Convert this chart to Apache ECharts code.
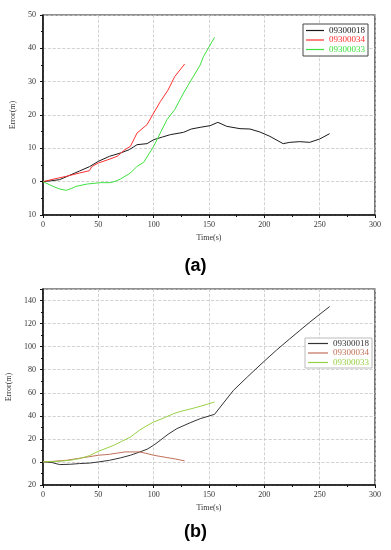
<!DOCTYPE html>
<html><head><meta charset="utf-8">
<script src="https://cdn.jsdelivr.net/npm/echarts@6/dist/echarts.min.js"></script>
<style>html,body{margin:0;padding:0;background:#fff}#c{width:391px;height:550px}</style>
</head><body><div id="c"></div>
<script>
var seriesNames = ['09300018', '09300034', '09300033'];
var xTicksLabel = 'Time(s)';
var yAxisLabel = 'Error(m)';
var panelLabels = ['(a)', '(b)'];

// Panel (a)
var a18_t = [0,8,15,24,33,42,50,60,70,78,85,94,100,108,115,127,134,142,151,158,166,178,187,196,205,217,223,232,241,250,259];
var a18_v = [0,0.3,0.6,1.9,3.2,4.5,6.1,7.6,8.6,9.6,11.1,11.4,12.6,13.4,14.1,14.8,15.8,16.3,16.8,17.8,16.6,15.9,15.8,14.9,13.6,11.4,11.8,12.0,11.8,12.8,14.4];
var a34_t = [0,10,21,33,42,44,50,58,67,74,79,85,94,100,106,113,119,128];
var a34_v = [0,0.8,1.6,2.6,3.3,4.5,5.6,6.5,7.6,9.6,10.6,14.6,17.1,20.6,24.0,27.5,31.5,35.3];
var a33_t = [0,9,15,21,26,30,40,52,61,66,70,79,85,91,100,106,112,119,127,134,142,145,155];
var a33_v = [0,-1.4,-2.2,-2.6,-2.0,-1.4,-0.7,-0.3,-0.3,0.2,0.8,2.6,4.6,5.8,10.6,14.6,18.6,21.6,26.6,30.5,35,37.5,43.3];

// Panel (b)
var b18_t = [0,8,15,25,33,42,50,60,70,79,87,94,100,106,113,121,133,142,155,172,185,199,211,223,232,241,250,259];
var b18_v = [0,-0.5,-2.3,-2.0,-1.4,-1.0,0,1.4,3.5,5.8,8.5,11,14.5,18.8,24,28.9,34,37.5,41.3,62,74,86.6,97,106.8,114,121.2,128,134.8];
var b34_t = [0,10,21,35,50,60,74,87,93,100,112,120,128];
var b34_v = [0,0.6,1.4,3.5,5.8,6.6,8.7,8.7,7.5,5.8,3.8,2.5,0.9];
var b33_t = [0,15,25,33,42,50,57,64,71,79,87,94,100,110,118,125,133,142,155];
var b33_v = [0,0.6,1.5,2.9,5.5,9.2,11.8,14.4,17.8,21.6,27.4,31.5,34.6,38.5,41.9,44,45.9,48.2,52];

function pairs(t, v) { return t.map(function (x, i) { return [x, v[i]]; }); }

var colorsA = ['#1a1a1a', '#ff3030', '#3fe03f'];
var colorsB = ['#333333', '#c0705a', '#99d044'];
var serif = 'Liberation Serif';

function xAx(gi) {
  return {
    type: 'value', gridIndex: gi, min: 0, max: 300, interval: 50,
    name: xTicksLabel, nameLocation: 'middle', nameGap: 19,
    nameTextStyle: { fontFamily: serif, fontSize: 8, color: '#333' },
    axisLine: { onZero: false, lineStyle: { color: '#111', width: 1.5 } },
    axisTick: { length: 3, lineStyle: { color: '#111' } },
    minorTick: { show: true, splitNumber: 2, length: 2, lineStyle: { color: '#111' } },
    axisLabel: { fontFamily: serif, fontSize: 8, color: '#333', margin: 6 },
    splitLine: { show: true, lineStyle: { color: '#c8c8c8', type: 'dashed', width: 0.8 } }
  };
}
function yAx(gi, min, max, interval) {
  return {
    type: 'value', gridIndex: gi, min: min, max: max, interval: interval,
    name: yAxisLabel, nameLocation: 'middle', nameGap: 26,
    nameTextStyle: { fontFamily: serif, fontSize: 8, color: '#333' },
    axisLine: { show: true, onZero: false, lineStyle: { color: '#111', width: 1.5 } },
    axisTick: { show: true, length: 3, lineStyle: { color: '#111' } },
    minorTick: { show: true, splitNumber: 2, length: 2, lineStyle: { color: '#111' } },
    axisLabel: { fontFamily: serif, fontSize: 8, color: '#333', margin: 7, showMaxLabel: (max - min) % interval === 0,
      formatter: function (v) { return String(Math.abs(v)); } },
    splitLine: { show: true, lineStyle: { color: '#c8c8c8', type: 'dashed', width: 0.8 } }
  };
}
function ser(name, data, color, gi) {
  return { type: 'line', name: name, data: data, xAxisIndex: gi, yAxisIndex: gi,
    symbol: 'none', lineStyle: { color: color, width: 1 }, itemStyle: { color: color }, z: 3 };
}
function legendData(colors) {
  return seriesNames.map(function (n, i) {
    return { name: n, icon: 'rect', itemStyle: { color: colors[i] }, textStyle: { color: colors[i] } };
  });
}

var option = {
  animation: false,
  grid: [
    { left: 43, top: 15, width: 332, height: 200, show: true, borderColor: '#222', borderWidth: 1.2, backgroundColor: 'transparent', containLabel: false, outerBoundsMode: 'none' },
    { left: 43, top: 289, width: 332, height: 196, show: true, borderColor: '#222', borderWidth: 1.2, backgroundColor: 'transparent', containLabel: false, outerBoundsMode: 'none' }
  ],
  xAxis: [xAx(0), xAx(1)],
  yAxis: [yAx(0, -10, 50, 10), yAx(1, -20, 150, 20)],
  legend: [
    { orient: 'vertical', left: 303, top: 24, padding: [2, 3, 2, 3], itemWidth: 18, itemHeight: 1.2, itemGap: 0.5,
      borderColor: '#444', borderWidth: 1, backgroundColor: '#fff', selectedMode: false,
      textStyle: { fontFamily: serif, fontSize: 9, lineHeight: 9 }, data: legendData(colorsA) },
    { orient: 'vertical', left: 305, top: 338, padding: [1, 3, 1, 3], itemWidth: 20, itemHeight: 1.2, itemGap: 0.5,
      borderColor: '#bbb', borderWidth: 1, backgroundColor: '#fff', selectedMode: false,
      textStyle: { fontFamily: serif, fontSize: 9, lineHeight: 7 }, data: legendData(colorsB) }
  ],
  graphic: [
    { type: 'text', left: 'center', top: 257, style: { text: panelLabels[0], font: 'bold 18px "Liberation Sans"', fill: '#000' } },
    { type: 'text', left: 'center', top: 523, style: { text: panelLabels[1], font: 'bold 18px "Liberation Sans"', fill: '#000' } }
  ],
  series: [
    ser(seriesNames[0], pairs(a18_t, a18_v), colorsA[0], 0),
    ser(seriesNames[1], pairs(a34_t, a34_v), colorsA[1], 0),
    ser(seriesNames[2], pairs(a33_t, a33_v), colorsA[2], 0),
    ser(seriesNames[0], pairs(b18_t, b18_v), colorsB[0], 1),
    ser(seriesNames[1], pairs(b34_t, b34_v), colorsB[1], 1),
    ser(seriesNames[2], pairs(b33_t, b33_v), colorsB[2], 1)
  ]
};
var chart = echarts.init(document.getElementById('c'), null, { renderer: 'canvas' });
chart.setOption(option);
</script>
</body></html>
